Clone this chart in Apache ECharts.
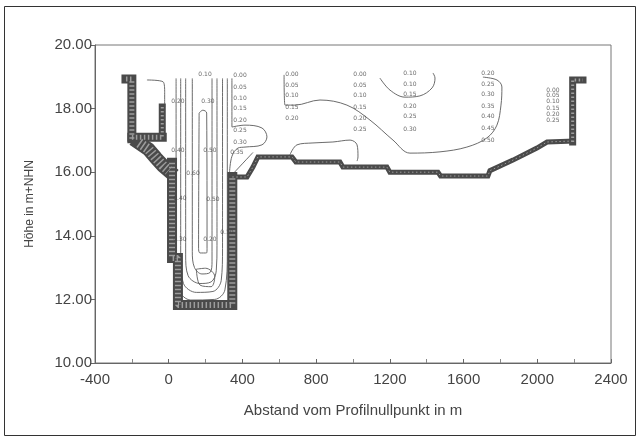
<!DOCTYPE html>
<html>
<head>
<meta charset="utf-8">
<script src="https://cdn.jsdelivr.net/npm/echarts@6/dist/echarts.min.js"></script>
<style>
html,body{margin:0;padding:0;background:#fff;}
#c{width:640px;height:441px;}
</style>
</head>
<body>
<div id="c"></div>
<script>
// ---- axis ticks ----
var xTicks = [-400, 0, 400, 800, 1200, 1600, 2000, 2400];
var yTicks = [10, 12, 14, 16, 18, 20];

// ---- river bed profile pieces [distance m, height m+NHN] ----
var bedLeftWall = [[-232,18.93],[-200,18.93],[-200,17.05]];
var bedLeftU = [[-200,17.1],[-35,17.1]];
var bedLeftPost = [[-35,18.05],[-35,17.1]];
var bedSlope = [[-160,16.92],[-110,16.72],[-70,16.45],[-30,16.2],[0,16.05]];
var bedTrench = [[18,16.3],[18,13.3],[50,13.3],[50,11.82],[345,11.82],[345,15.85]];
var bedBank = [[345,15.85],[425,15.85],[457,16.16],[484,16.48],[669,16.48],[690,16.32],[929,16.32],[945,16.16],[1184,16.16],[1200,16.0],[1461,16.0],[1475,15.88],[1732,15.88],[1743,16.05],[1868,16.38],[1998,16.76],[2053,16.95],[2190,16.98]];
var bedRightWall = [[2192,16.95],[2192,18.9],[2248,18.9]];

// ---- isolines ----
var iso1 = [[40,18.95],[40,13.2],[55,12.3],[120,11.98],[250,12.0],[305,12.3],[318,13.5],[318,18.95]];
var iso2 = [[65,18.95],[65,13.3],[80,12.5],[150,12.22],[240,12.25],[285,12.6],[292,13.6],[292,18.95]];
var iso3 = [[92,18.95],[92,13.4],[105,12.75],[170,12.5],[230,12.55],[258,12.9],[262,13.7],[262,18.95]];
var iso4 = [[128,18.95],[128,13.5],[140,13.0],[180,12.8],[225,12.85],[235,13.2],[235,13.8],[235,18.95]];
var iso5 = [[165,17.86],[162,13.6],[170,13.46],[205,13.46],[208,13.6],[206,17.86],[185,17.95],[165,17.86]];
var iso6 = [[150,12.95],[200,12.98],[250,12.72],[230,12.4],[170,12.45],[150,12.95]];
var isoBulge = [[343,18.95],[343,17.42],[414,17.48],[506,17.39],[533,17.11],[506,16.86],[414,16.79],[376,16.76],[343,16.5],[330,16.0]];
var isoDiag = [[457,16.62],[349,15.95]];
var isoLeft = [[-118,18.9],[-30,18.84],[-22,18.5],[-22,18.05]];
var isoBump = [[658,16.55],[696,16.86],[783,16.92],[891,16.95],[984,17.01],[1022,16.86],[1027,16.48],[1022,16.35]];
var isoLong = [[626,19.06],[631,18.11],[685,18.11],[821,18.27],[967,18.11],[1092,17.64],[1217,17.01],[1309,16.6],[1472,16.64],[1618,16.79],[1727,17.08],[1781,17.48],[1803,18.11],[1808,18.68],[1781,18.9],[1705,18.99]];
var isoU = [[1146,18.96],[1201,18.58],[1282,18.36],[1363,18.4],[1429,18.65],[1445,18.96],[1434,19.12]];

// ---- isoline labels [x, y, text] ----
var labelsA = [[387,19.03,"0.00"],[387,18.68,"0.05"],[387,18.33,"0.10"],[387,17.99,"0.15"],[387,17.64,"0.20"],[387,17.30,"0.25"],[387,16.95,"0.30"],[370,16.62,"0.35"]];
var labelsB = [[669,19.09,"0.00"],[669,18.74,"0.05"],[669,18.40,"0.10"],[669,18.05,"0.15"],[669,17.70,"0.20"]];
var labelsC = [[1038,19.09,"0.00"],[1038,18.74,"0.05"],[1038,18.40,"0.10"],[1038,18.05,"0.15"],[1038,17.70,"0.20"],[1038,17.36,"0.25"]];
var labelsD = [[1309,19.12,"0.10"],[1309,18.77,"0.10"],[1309,18.43,"0.15"],[1309,18.08,"0.20"],[1309,17.74,"0.25"],[1309,17.36,"0.30"]];
var labelsE = [[1732,19.12,"0.20"],[1732,18.77,"0.25"],[1732,18.43,"0.30"],[1732,18.08,"0.35"],[1732,17.74,"0.40"],[1732,17.39,"0.45"],[1732,17.01,"0.50"]];
var labelsF = [[2085,18.58,"0.00"],[2085,18.40,"0.05"],[2085,18.21,"0.10"],[2085,18.02,"0.15"],[2085,17.83,"0.20"],[2085,17.64,"0.25"]];
var labelsT = [[197,19.09,"0.10"],[50,18.24,"0.20"],[213,18.21,"0.30"],[50,16.7,"0.40"],[224,16.67,"0.50"],[132,15.97,"0.60"],[61,15.19,"0.40"],[240,15.13,"0.50"],[61,13.87,"0.30"],[224,13.87,"0.20"],[316,14.12,"0.10"]];

var bedColor = '#4a4a4a';
var isoColor = '#5a5a5a';

function bed(data, w) {
  return [{
    type:'line', data:data, showSymbol:false, silent:true, z:3,
    lineStyle:{color:bedColor, width:w, cap:'square', join:'miter'}
  },{
    type:'line', data:data, showSymbol:false, silent:true, z:4,
    lineStyle:{color:'#9c9c9c', width:Math.max(1, w-4), type:[1.5,2.5], cap:'butt'}
  }];
}
function iso(data) {
  return {type:'line', data:data, showSymbol:false, silent:true, smooth:0.35, z:2,
    lineStyle:{color:isoColor, width:0.9}};
}
function lab(data) {
  return {type:'scatter', data:data, symbolSize:0, silent:true, z:5,
    label:{show:true, position:'inside', formatter:function(p){return p.data[2];},
      fontSize:6, fontFamily:'DejaVu Sans', color:'#444'}};
}

var series = [];
[[bedLeftWall,9],[bedLeftU,9],[bedLeftPost,7],[bedSlope,14],[bedTrench,10],[bedBank,5],[bedRightWall,7]].forEach(function(b){
  series = series.concat(bed(b[0], b[1]));
});
[iso1,iso2,iso3,iso4,iso5,iso6,isoBulge,isoDiag,isoLeft,isoBump,isoLong,isoU].forEach(function(d){ series.push(iso(d)); });
[labelsA,labelsB,labelsC,labelsD,labelsE,labelsF,labelsT].forEach(function(d){ series.push(lab(d)); });

var chart = echarts.init(document.getElementById('c'), null, {renderer:'canvas'});
chart.setOption({
  animation:false,
  backgroundColor:'#ffffff',
  textStyle:{fontFamily:'Liberation Sans'},
  graphic:[{type:'rect', shape:{x:4.5,y:6.5,width:631,height:429}, style:{fill:'none', stroke:'#333', lineWidth:1}, silent:true}],
  grid:{left:95, right:29, top:45, bottom:78, show:true, borderColor:'#777', borderWidth:1, backgroundColor:'transparent'},
  xAxis:{type:'value', min:xTicks[0], max:xTicks[xTicks.length-1], interval:400,
    name:'Abstand vom Profilnullpunkt in m', nameLocation:'middle', nameGap:40,
    nameTextStyle:{fontSize:15, color:'#444'},
    axisLine:{show:true, onZero:false, lineStyle:{color:'#666'}},
    axisTick:{show:true, inside:true, length:4, lineStyle:{color:'#666'}},
    minorTick:{show:true, splitNumber:2, length:4, lineStyle:{color:'#888'}},
    axisLabel:{fontSize:15, color:'#444', margin:9, formatter:function(v){return String(v);}},
    splitLine:{show:false}},
  yAxis:{type:'value', min:yTicks[0], max:yTicks[yTicks.length-1], interval:2,
    name:'Höhe in m+NHN', nameLocation:'middle', nameGap:59, nameRotate:90,
    nameTextStyle:{fontSize:12, color:'#444'},
    axisLine:{show:true, onZero:false, lineStyle:{color:'#666'}},
    axisTick:{show:true, inside:false, length:4, lineStyle:{color:'#666'}},
    axisLabel:{fontSize:15, color:'#444', margin:3, formatter:function(v){return v.toFixed(2);}},
    splitLine:{show:false}},
  series:series
});
</script>
</body>
</html>
